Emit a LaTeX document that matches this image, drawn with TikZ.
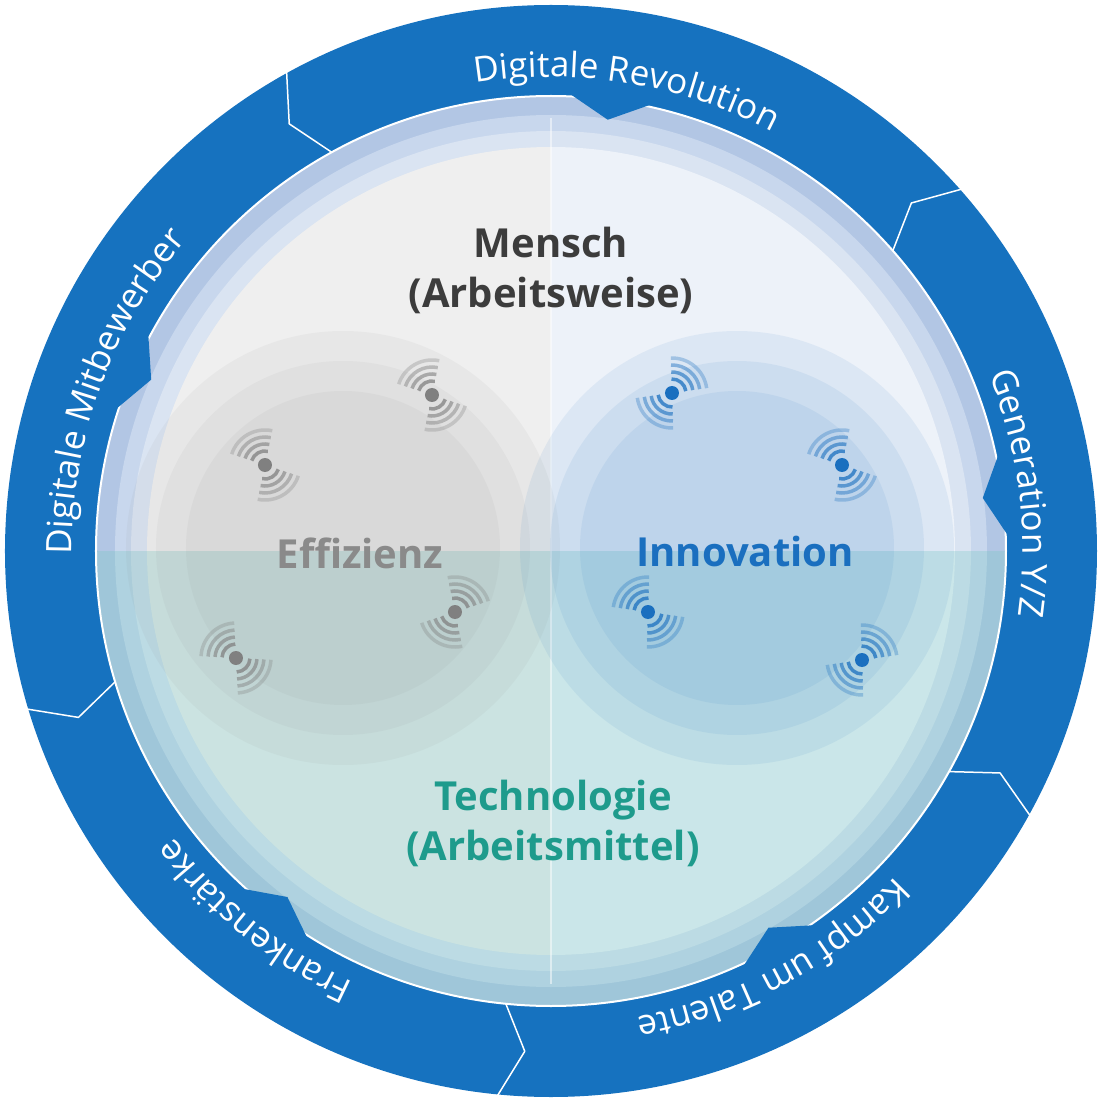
\documentclass[tikz,border=0pt]{standalone}
\usepackage{fontspec}
\setmainfont{Open Sans}
\usetikzlibrary{decorations.text}

\definecolor{ringblue}{RGB}{22,114,191}
\definecolor{rimA}{RGB}{178,198,228}
\definecolor{rimB}{RGB}{200,215,237}
\definecolor{rimC}{RGB}{218,228,242}
\definecolor{leftfill}{RGB}{239,239,239}
\definecolor{rightfill}{RGB}{237,242,249}
\definecolor{tealtint}{RGB}{112,199,192}
\definecolor{grayicon}{RGB}{128,128,128}
\definecolor{blueicon}{RGB}{26,111,191}
\definecolor{menschgray}{RGB}{60,60,60}
\definecolor{techteal}{RGB}{30,155,140}
\definecolor{effgray}{RGB}{138,138,138}

\newcommand{\ringfont}{\fontsize{35}{40}\selectfont}

\tikzset{
  ringlabel/.style={decorate, decoration={text along path, text align=center, text color=white}},
  bigtitle/.style={font=\fontsize{40}{44}\selectfont\bfseries, anchor=base, align=center},
  seam/.style={white, line width=1.5, line join=round},
}

\begin{document}
\begin{tikzpicture}[x=1pt, y=1pt]
\useasboundingbox (-551,-550) rectangle (550,551);

 \def\Rout{546};
 \def\Rin{455};

	%outer band
 \fill[ringblue] (0,0) circle (\Rout);

	%rim
 \fill[rimA] (0,0) circle (\Rin);
 \fill[rimB] (0,0) circle (436);
 \fill[rimC] (0,0) circle (420);
 \fill[leftfill] (0,404) arc[start angle=90, end angle=270, radius=404] -- cycle;
 \fill[rightfill] (0,404) arc[start angle=90, end angle=-90, radius=404] -- cycle;

	%lower half
 \fill[tealtint, opacity=0.28] (\Rin,0) arc[start angle=0, end angle=-180, radius=\Rin] -- cycle;
 \draw[white, opacity=0.5, line width=1.2] (0,433) -- (0,-433);

	%two circles
    \foreach \cx/\col/\op in {-208/grayicon/0.065, 186/blueicon/0.08}{
        \foreach \rr in {217,187,157}{
             \fill[\col, opacity=\op] (\cx,3) circle (\rr);
        }
    }

	%inner edge of band, notches, seams
 \draw[white, line width=2] (0,0) circle (\Rin);
    \foreach \a in {82.5, 7, -60, 232.7, 156.8}{
        \fill[ringblue] ({\a+6}:462) -- (\a:435) -- ({\a-6}:462) -- cycle;
    }
    \foreach \a in {118.8, 41.3, -29, 264.3, 196.7}{
        \draw[seam] (\a:549) -- ({\a+2.7}:501) -- (\a:\Rin);
    }

	%icons
    \foreach \x/\y/\rot/\col/\name in {-119/156/120/grayicon/g1, -286/86/120/grayicon/g2, -96/-61/60/grayicon/g3, -315/-107/135/grayicon/g4,
                                      121/158/50/blueicon/b1, 291/86/120/blueicon/b2, 97/-61/130/blueicon/b3, 311/-109/50/blueicon/b4}{
        \coordinate (\name) at (\x,\y);
        \fill[\col] (\name) circle (7);
        \foreach \k/\op in {1/0.75, 2/0.6, 3/0.45, 4/0.3}{
            \pgfmathsetmacro\rr{7+7*\k}
            \draw[\col, opacity=\op, line width=3.5] ([shift={({\rot-42}:\rr)}]\name) arc[start angle=\rot-42, end angle=\rot+42, radius=\rr];
            \draw[\col, opacity=\op, line width=3.5] ([shift={({\rot+138}:\rr)}]\name) arc[start angle=\rot+138, end angle=\rot+222, radius=\rr];
        }
    }

	%titles
 \node[bigtitle, text=menschgray] (mensch) at (0,293) {Mensch};
 \node[bigtitle, text=menschgray] (arbeitsweise) at (0,243) {(Arbeitsweise)};
 \node[bigtitle, text=effgray] (effizienz) at (-191,-17) {Effizienz};
 \node[bigtitle, text=blueicon] (innovation) at (194,-15) {Innovation};
 \node[bigtitle, text=techteal] (technologie) at (2,-259) {Technologie};
 \node[bigtitle, text=techteal] (arbeitsmittel) at (2,-309) {(Arbeitsmittel)};

	%ring labels
 \path[ringlabel, decoration={text={|\ringfont|Digitale Revolution}}] (120.7:474) arc[start angle=120.7, end angle=40.7, radius=474];
 \path[ringlabel, decoration={text={|\ringfont|Generation Y/Z}}] (47:472) arc[start angle=47, end angle=-33, radius=472];
 \path[ringlabel, decoration={text={|\ringfont|Kampf um Talente}}] (-21.5:474) arc[start angle=-21.5, end angle=-101.5, radius=474];
 \path[ringlabel, decoration={text={|\ringfont|Frankenstärke}}] (271.3:474) arc[start angle=271.3, end angle=191.3, radius=474];
 \path[ringlabel, decoration={text={|\ringfont|Digitale Mitbewerber}}] (200:479) arc[start angle=200, end angle=120, radius=479];

\end{tikzpicture}
\end{document}
